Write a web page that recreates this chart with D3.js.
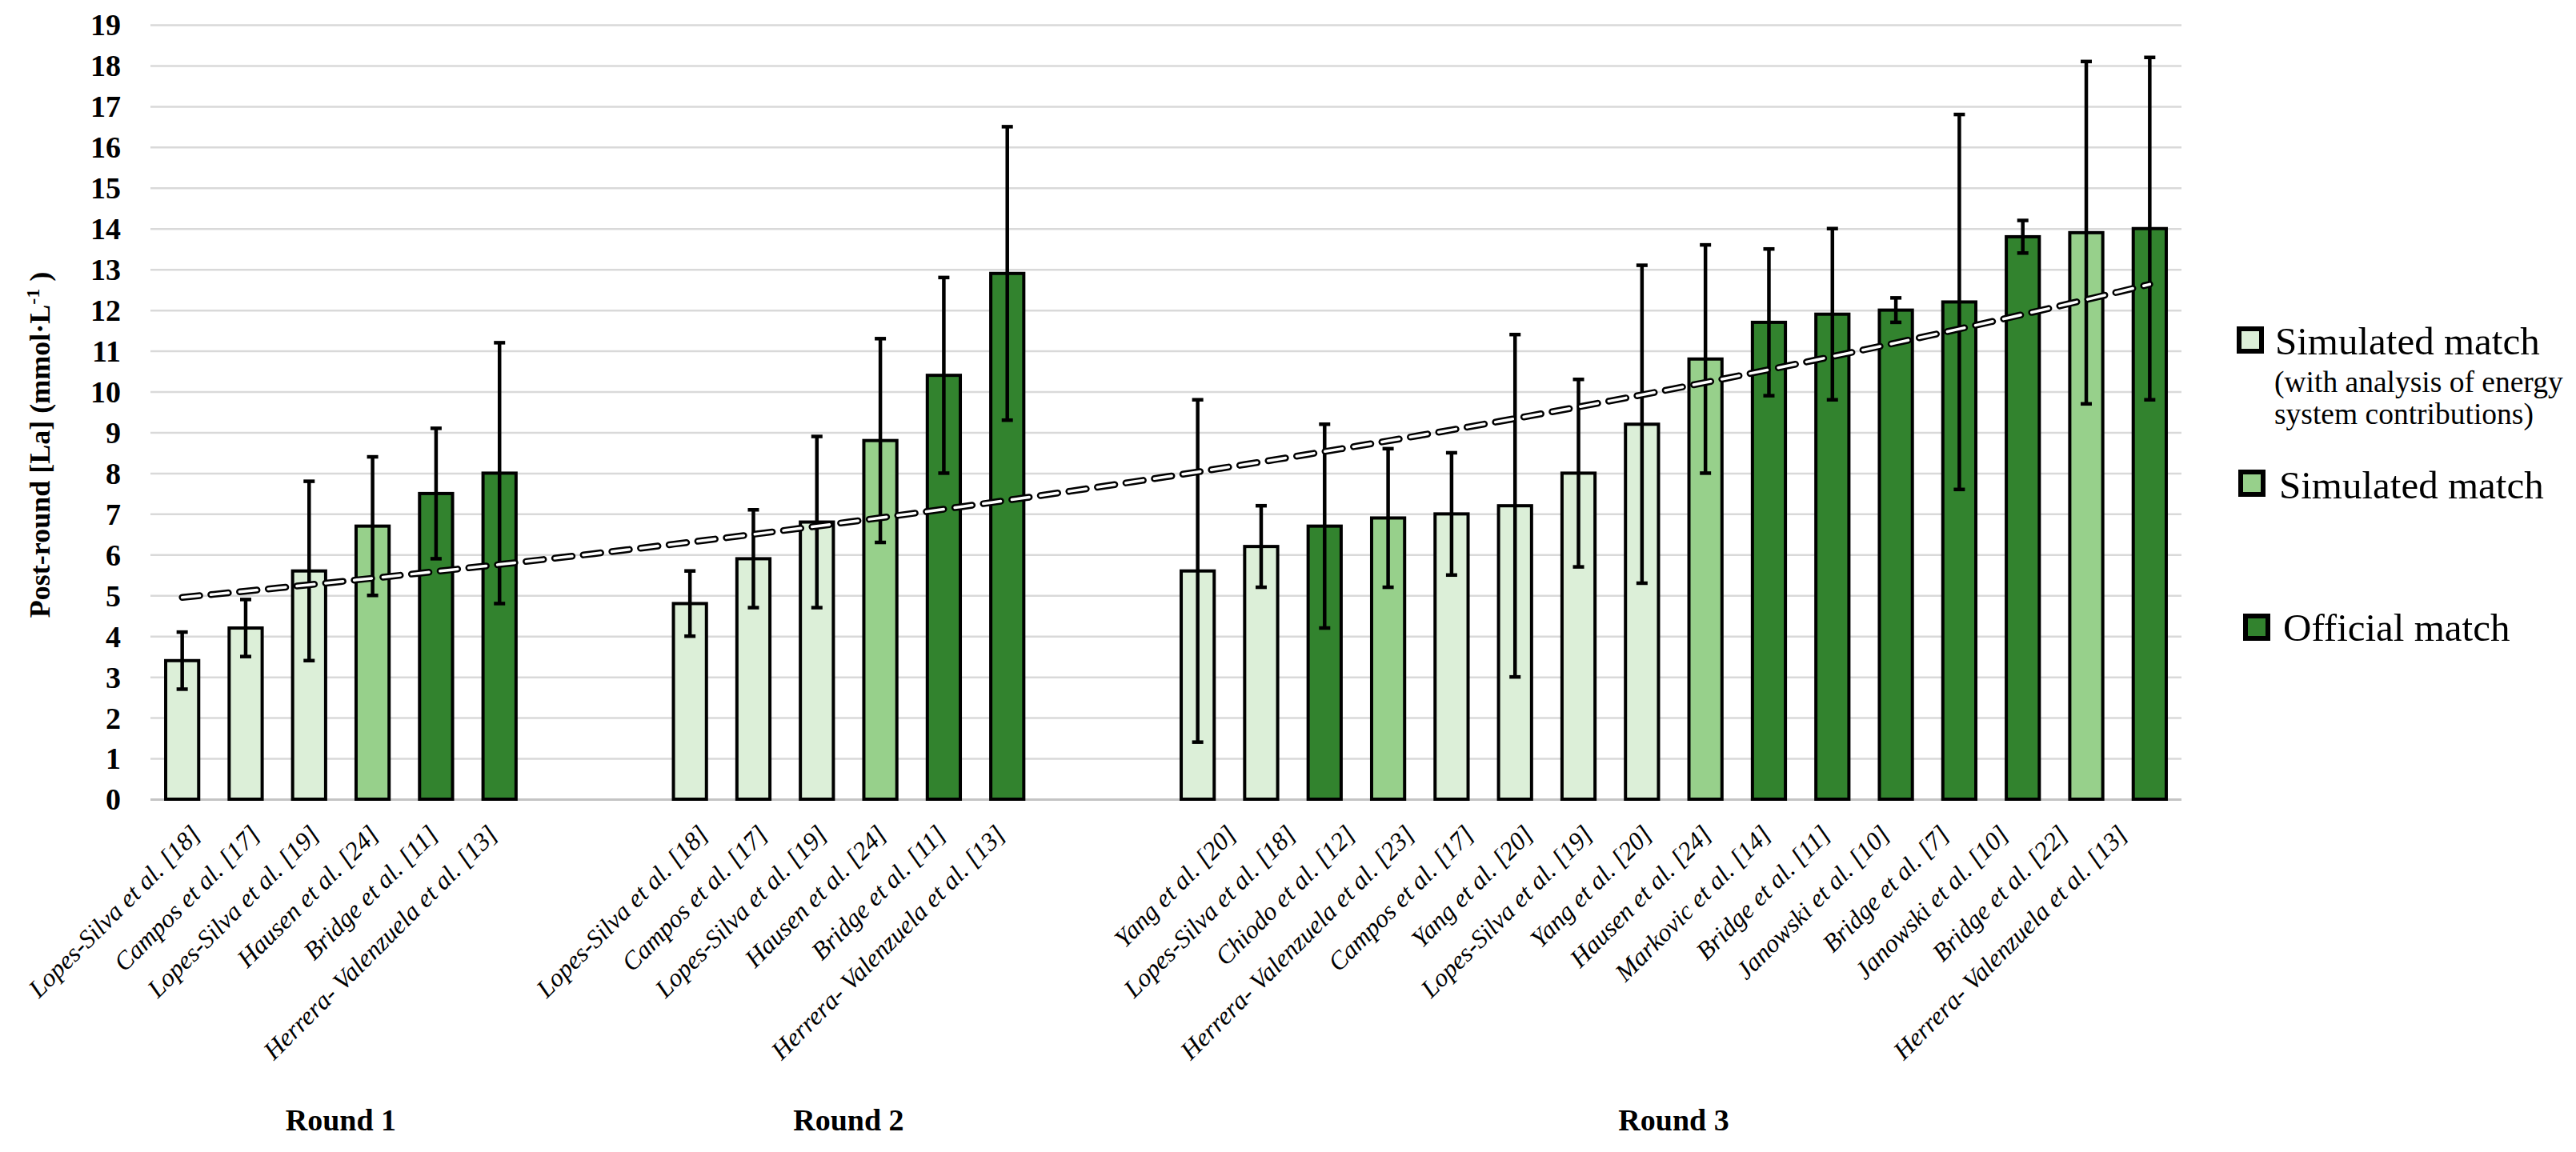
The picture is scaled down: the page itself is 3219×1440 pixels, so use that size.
<!DOCTYPE html>
<html>
<head>
<meta charset="utf-8">
<script src="https://cdn.jsdelivr.net/npm/d3@7"></script>
<style>
  body { margin: 0; background: #fff; }
  svg text { font-family: "Liberation Serif", "Times New Roman", serif; fill: #000; }
</style>
</head>
<body>
<div id="app"></div>
<script>
// values (mean and SD of post-round blood lactate)
const roundNames = ["Round 1", "Round 2", "Round 3"];

const round1Studies = ["Lopes-Silva et al. [18]", "Campos et al. [17]", "Lopes-Silva et al. [19]",
  "Hausen et al. [24]", "Bridge et al. [11]", "Herrera- Valenzuela et al. [13]"];
const round1Means = [3.4, 4.2, 5.6, 6.7, 7.5, 8.0];
const round1SD = [0.7, 0.7, 2.2, 1.7, 1.6, 3.2];
const round1Types = ["energy", "energy", "energy", "simulated", "official", "official"];

const round2Studies = ["Lopes-Silva et al. [18]", "Campos et al. [17]", "Lopes-Silva et al. [19]",
  "Hausen et al. [24]", "Bridge et al. [11]", "Herrera- Valenzuela et al. [13]"];
const round2Means = [4.8, 5.9, 6.8, 8.8, 10.4, 12.9];
const round2SD = [0.8, 1.2, 2.1, 2.5, 2.4, 3.6];
const round2Types = ["energy", "energy", "energy", "simulated", "official", "official"];

const round3Studies = ["Yang et al. [20]", "Lopes-Silva et al. [18]", "Chiodo et al. [12]",
  "Herrera- Valenzuela et al. [23]", "Campos et al. [17]", "Yang et al. [20]", "Lopes-Silva et al. [19]",
  "Yang et al. [20]", "Hausen et al. [24]", "Markovic et al. [14]", "Bridge et al. [11]",
  "Janowski et al. [10]", "Bridge et al. [7]", "Janowski et al. [10]", "Bridge et al. [22]",
  "Herrera- Valenzuela et al. [13]"];
const round3Means = [5.6, 6.2, 6.7, 6.9, 7.0, 7.2, 8.0, 9.2, 10.8, 11.7, 11.9, 12.0, 12.2, 13.8, 13.9, 14.0];
const round3SD = [4.2, 1.0, 2.5, 1.7, 1.5, 4.2, 2.3, 3.9, 2.8, 1.8, 2.1, 0.3, 4.6, 0.4, 4.2, 4.2];
const round3Types = ["energy", "energy", "official", "simulated", "energy", "energy", "energy", "energy",
  "simulated", "official", "official", "official", "official", "official", "simulated", "official"];

const yTicks = d3.range(0, 20);
const legendTypes = ["energy", "simulated", "official"];
const legendLabels = ["Simulated match", "Simulated match", "Official match"];
const legendNote = ["(with analysis of energy", "system contributions)"];

// basic settings of chart
const settings = {
  width: 3219,
  height: 1440,
  left: 188,
  right: 2726,
  top: 31,
  bottom: 999,
  gapSlots: 2,
  labelSqueeze: 0.936,
  labelShift: 12,
  labelY: 1045,
};
const colors = { energy: "#dcefd8", simulated: "#97d08b", official: "#32832e" };

// flatten the three rounds into slots, with empty slots between the rounds
const rounds = [
  [round1Studies, round1Means, round1SD, round1Types],
  [round2Studies, round2Means, round2SD, round2Types],
  [round3Studies, round3Means, round3SD, round3Types],
];
const rows = [];
const groups = [];
let slot = 0;
rounds.forEach(([studies, means, sds, types], r) => {
  const first = slot;
  studies.forEach((study, i) => {
    rows.push({ slot, round: r, study, mean: means[i], sd: sds[i], type: types[i] });
    slot++;
  });
  groups.push({ name: roundNames[r], first, last: slot - 1 });
  if (r < rounds.length - 1) slot += settings.gapSlots;
});
const slotCount = slot;

const svg = d3.select("#app").append("svg")
  .attr("width", settings.width)
  .attr("height", settings.height)
  .style("display", "block");

const x = d3.scaleBand()
  .domain(d3.range(slotCount))
  .range([settings.left, settings.right])
  .paddingInner(0.48)
  .paddingOuter(0.24);
const y = d3.scaleLinear().domain([0, 19]).range([settings.bottom, settings.top]);
const cx = (s) => x(s) + x.bandwidth() / 2;

// gridlines
const grid = svg.append("g")
  .attr("transform", `translate(${settings.left},0)`)
  .call(d3.axisLeft(y).tickValues(yTicks).tickSize(-(settings.right - settings.left)).tickFormat(""));
grid.select(".domain").remove();
grid.selectAll("line").attr("stroke", "#d9d9d9").attr("stroke-width", 2.5);
grid.selectAll(".tick").filter((d) => d === 0).select("line")
  .attr("stroke", "#c4c4c4").attr("stroke-width", 3);

// y tick labels
const yAxis = svg.append("g")
  .attr("transform", "translate(151,0)")
  .call(d3.axisLeft(y).tickValues(yTicks).tickSize(0).tickPadding(0));
yAxis.select(".domain").remove();
yAxis.selectAll("text")
  .attr("dy", "0.34em")
  .style("font-size", "38px")
  .style("font-weight", "bold")
  .style("font-family", '"Liberation Serif", "Times New Roman", serif');

// y axis title
const title = svg.append("text")
  .attr("transform", "translate(62,556) rotate(-90)")
  .attr("text-anchor", "middle")
  .style("font-size", "36px")
  .style("font-weight", "bold");
title.append("tspan").text("Post-round [La] (mmol·L");
title.append("tspan").attr("baseline-shift", "super").style("font-size", "24px").text("-1");
title.append("tspan").text(" )");

// bars
svg.append("g").selectAll("rect")
  .data(rows)
  .join("rect")
  .attr("x", (d) => x(d.slot))
  .attr("y", (d) => y(d.mean))
  .attr("width", x.bandwidth())
  .attr("height", (d) => y(0) - y(d.mean))
  .attr("fill", (d) => colors[d.type])
  .attr("stroke", "#000")
  .attr("stroke-width", 4);

// error bars
const err = svg.append("g").attr("stroke", "#000").attr("stroke-width", 4.5);
err.selectAll("line.stem")
  .data(rows)
  .join("line")
  .attr("class", "stem")
  .attr("x1", (d) => cx(d.slot))
  .attr("x2", (d) => cx(d.slot))
  .attr("y1", (d) => y(d.mean - d.sd))
  .attr("y2", (d) => y(d.mean + d.sd));
["lo", "hi"].forEach((end) => {
  err.selectAll(`line.cap-${end}`)
    .data(rows)
    .join("line")
    .attr("class", `cap-${end}`)
    .attr("x1", (d) => cx(d.slot) - 7)
    .attr("x2", (d) => cx(d.slot) + 7)
    .attr("y1", (d) => y(end === "lo" ? d.mean - d.sd : d.mean + d.sd))
    .attr("y2", (d) => y(end === "lo" ? d.mean - d.sd : d.mean + d.sd));
});

// exponential trendline, least squares on ln(mean) against slot index
const mx = d3.mean(rows, (d) => d.slot);
const my = d3.mean(rows, (d) => Math.log(d.mean));
const b = d3.sum(rows, (d) => (d.slot - mx) * (Math.log(d.mean) - my)) /
  d3.sum(rows, (d) => (d.slot - mx) ** 2);
const a = Math.exp(my - b * mx);
const trendPoints = d3.range(0, slotCount - 1 + 0.001, 0.25);
const trendLine = d3.line()
  .x((s) => x(0) + x.bandwidth() / 2 + s * x.step())
  .y((s) => y(a * Math.exp(b * s)));
svg.append("path")
  .attr("d", trendLine(trendPoints))
  .attr("fill", "none")
  .attr("stroke", "#000")
  .attr("stroke-width", 8.5)
  .attr("stroke-linecap", "round")
  .attr("stroke-dasharray", "22 14");
svg.append("path")
  .attr("d", trendLine(trendPoints))
  .attr("fill", "none")
  .attr("stroke", "#fff")
  .attr("stroke-width", 3.5)
  .attr("stroke-linecap", "round")
  .attr("stroke-dasharray", "22 14");

// rotated study labels, slightly squeezed towards the middle of each round
svg.append("g").selectAll("text")
  .data(rows)
  .join("text")
  .attr("transform", (d) => {
    const g = groups[d.round];
    const mid = (cx(g.first) + cx(g.last)) / 2;
    const lx = mid + (cx(d.slot) - mid) * settings.labelSqueeze + settings.labelShift;
    return `translate(${lx},${settings.labelY}) rotate(-45)`;
  })
  .attr("text-anchor", "end")
  .style("font-size", "32px")
  .style("font-style", "italic")
  .text((d) => d.study);

// round names
svg.append("g").selectAll("text")
  .data(groups)
  .join("text")
  .attr("x", (g) => (cx(g.first) + cx(g.last)) / 2)
  .attr("y", 1413)
  .attr("text-anchor", "middle")
  .style("font-size", "38px")
  .style("font-weight", "bold")
  .text((g) => g.name);

// legend
const legendPos = [
  { bx: 2795, by: 408, tx: 2843, ty: 443 },
  { bx: 2797, by: 587, tx: 2848, ty: 623 },
  { bx: 2803, by: 767, tx: 2853, ty: 801 },
];
const legend = svg.append("g");
legendTypes.forEach((t, i) => {
  const p = legendPos[i];
  legend.append("rect")
    .attr("x", p.bx + 3)
    .attr("y", p.by + 3)
    .attr("width", 28)
    .attr("height", 28)
    .attr("fill", colors[t])
    .attr("stroke", "#000")
    .attr("stroke-width", 6);
  legend.append("text")
    .attr("x", p.tx)
    .attr("y", p.ty)
    .style("font-size", "49px")
    .text(legendLabels[i]);
});
legendNote.forEach((line, i) => {
  legend.append("text")
    .attr("x", 2842)
    .attr("y", 490 + i * 40)
    .style("font-size", "37.5px")
    .text(line);
});
</script>
</body>
</html>
